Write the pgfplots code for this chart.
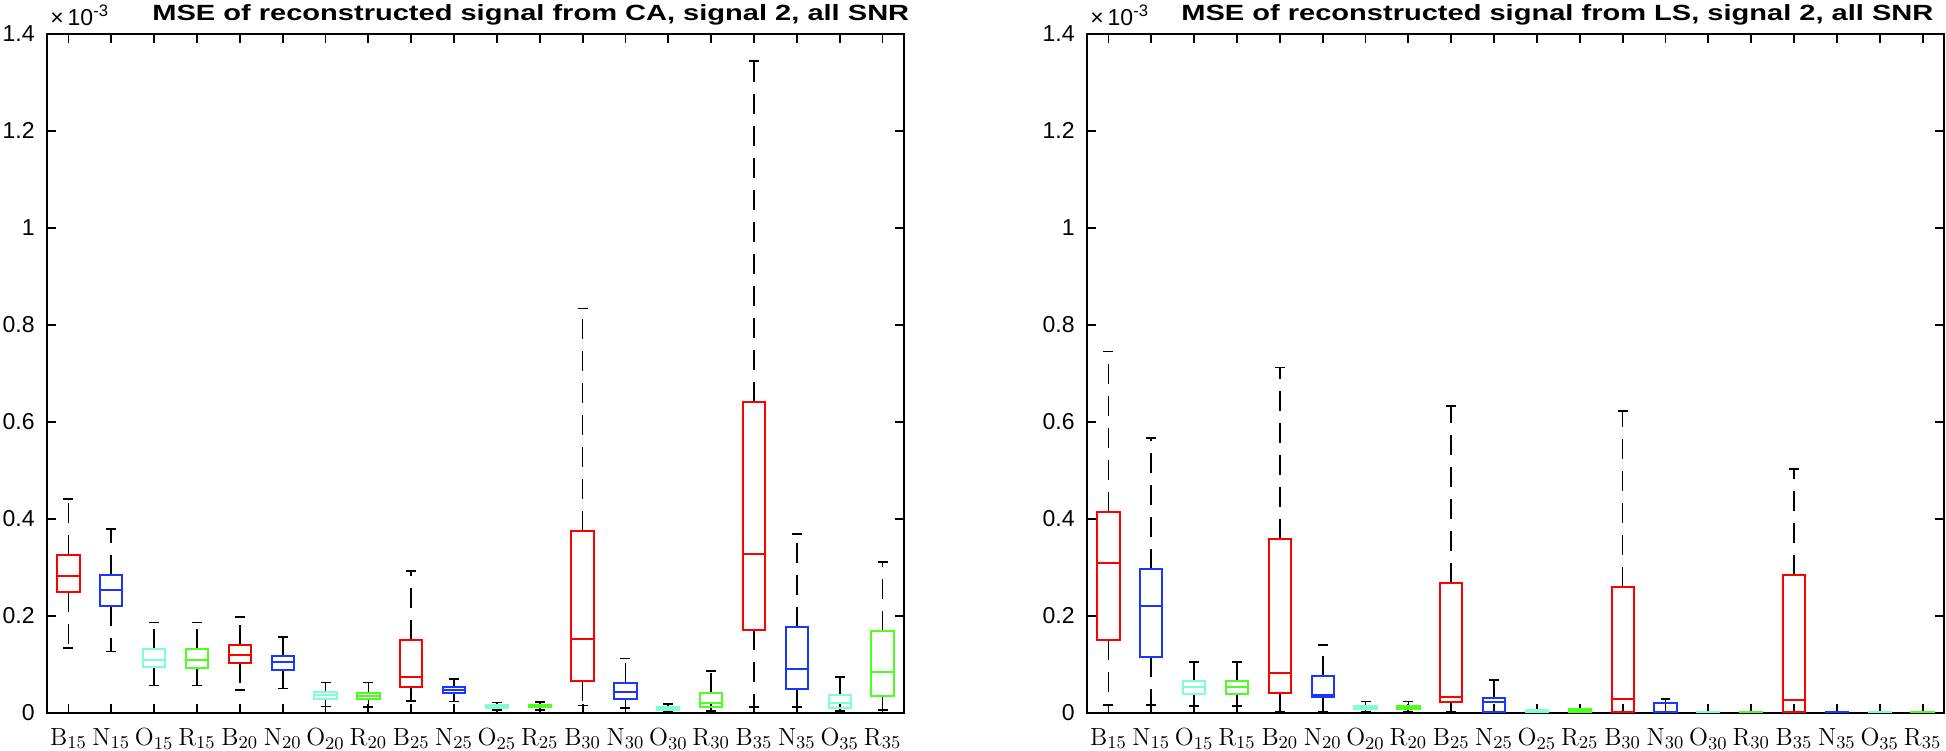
\documentclass[border=0pt]{standalone}
\usepackage{pgfplots}
\pgfplotsset{compat=1.18}
\usepackage{pgfplotstable}
\usepgfplotslibrary{statistics}
\usepackage{fontspec}
\usepackage{graphicx}
\newfontfamily\helv{Liberation Sans}

\definecolor{cB}{rgb}{1,0,0}
\definecolor{cN}{rgb}{0.1,0.22,1}
\definecolor{cO}{rgb}{0.5,1,0.83}
\definecolor{cR}{rgb}{0.3,1,0.12}
\colorlet{col0}{cB}\colorlet{col1}{cN}\colorlet{col2}{cO}\colorlet{col3}{cR}
\colorlet{col4}{cB}\colorlet{col5}{cN}\colorlet{col6}{cO}\colorlet{col7}{cR}
\colorlet{col8}{cB}\colorlet{col9}{cN}\colorlet{col10}{cO}\colorlet{col11}{cR}
\colorlet{col12}{cB}\colorlet{col13}{cN}\colorlet{col14}{cO}\colorlet{col15}{cR}
\colorlet{col16}{cB}\colorlet{col17}{cN}\colorlet{col18}{cO}\colorlet{col19}{cR}

% MSE values in units of 1e-3
\pgfplotstableread{
name lw q1 med q3 uw
B15 0.134 0.249 0.283 0.326 0.441
N15 0.126 0.221 0.254 0.284 0.379
O15 0.056 0.094 0.109 0.131 0.186
R15 0.056 0.093 0.109 0.131 0.186
B20 0.047 0.103 0.119 0.140 0.198
N20 0.050 0.089 0.104 0.117 0.156
O20 0.013 0.028 0.036 0.043 0.062
R20 0.012 0.028 0.034 0.041 0.062
B25 0.024 0.052 0.074 0.149 0.292
N25 0.023 0.040 0.047 0.053 0.070
O25 0.006 0.009 0.012 0.016 0.021
R25 0.006 0.011 0.0145 0.0165 0.022
B30 0.015 0.065 0.152 0.374 0.834
N30 0.010 0.029 0.042 0.062 0.112
O30 0.002 0.0055 0.009 0.012 0.018
R30 0.003 0.011 0.020 0.041 0.086
B35 0.012 0.171 0.327 0.641 1.344
N35 0.012 0.048 0.090 0.176 0.368
O35 0.003 0.010 0.019 0.036 0.074
R35 0.005 0.034 0.083 0.168 0.311
}\ca

\pgfplotstableread{
name lw q1 med q3 uw
B15 0.016 0.149 0.308 0.415 0.745
N15 0.016 0.114 0.221 0.297 0.566
O15 0.014 0.038 0.054 0.066 0.104
R15 0.014 0.038 0.054 0.066 0.104
B20 0.002 0.041 0.081 0.359 0.712
N20 0.002 0.033 0.036 0.076 0.140
O20 0.002 0.007 0.011 0.0145 0.023
R20 0.002 0.007 0.011 0.0145 0.023
B25 0.001 0.023 0.032 0.268 0.632
N25 0.001 0.002 0.023 0.030 0.068
O25 0.0005 0.002 0.003 0.005 0.006
R25 0.0005 0.002 0.004 0.007 0.008
B30 0.0005 0.001 0.028 0.259 0.622
N30 0.0005 0.001 0.002 0.020 0.028
O30 0.0002 0.0005 0.001 0.0015 0.002
R30 0.0002 0.0005 0.001 0.0015 0.002
B35 0.0005 0.001 0.027 0.284 0.502
N35 0.0002 0.0005 0.001 0.0015 0.002
O35 0.0002 0.0005 0.001 0.0015 0.002
R35 0.0002 0.0005 0.001 0.0015 0.002
}\ls

% draw one box from row #2 of table #1
\newcommand\boxrow[2]{%
  \pgfplotstablegetelem{#2}{lw}\of#1\edef\vlw{\pgfplotsretval}%
  \pgfplotstablegetelem{#2}{q1}\of#1\edef\vqa{\pgfplotsretval}%
  \pgfplotstablegetelem{#2}{med}\of#1\edef\vmed{\pgfplotsretval}%
  \pgfplotstablegetelem{#2}{q3}\of#1\edef\vqb{\pgfplotsretval}%
  \pgfplotstablegetelem{#2}{uw}\of#1\edef\vuw{\pgfplotsretval}%
  \pgfmathtruncatemacro\vpos{#2+1}%
  \edef\doplot{\noexpand\addplot[col#2, line width=1pt,
    boxplot prepared={lower whisker=\vlw, lower quartile=\vqa, median=\vmed,
      upper quartile=\vqb, upper whisker=\vuw, draw position=\vpos}]
    coordinates {};}%
  \doplot
}

\pgfplotsset{
  myaxis/.style={
    scale only axis, width=428.5pt, height=339.35pt,
    xmin=0.5, xmax=20.5, ymin=0, ymax=1.4,
    xtick={1,...,20},
    xticklabels={B$_{15}$,N$_{15}$,O$_{15}$,R$_{15}$,B$_{20}$,N$_{20}$,O$_{20}$,R$_{20}$,B$_{25}$,N$_{25}$,O$_{25}$,R$_{25}$,B$_{30}$,N$_{30}$,O$_{30}$,R$_{30}$,B$_{35}$,N$_{35}$,O$_{35}$,R$_{35}$},
    ytick={0,0.2,0.4,0.6,0.8,1,1.2,1.4},
    yticklabels={0,0.2,0.4,0.6,0.8,1,1.2,1.4},
    tick align=inside, major tick length=4.5pt,
    xtick pos=both, ytick pos=both,
    axis line style={line width=0.9pt},
    every tick/.style={black, line width=0.9pt},
    yticklabel style={font=\helv\fontsize{11.5}{13}\selectfont, inner sep=0pt, xshift=-6pt},
    xticklabel style={font=\fontsize{12.4}{14}\selectfont, inner sep=0pt, yshift=-7.6pt},
    boxplot/draw direction=y, boxplot/box extend=0.52, boxplot/whisker extend=0.233,
    boxplot/every whisker/.style={black, line width=0.85pt, dash pattern=on 10pt off 6pt},
    clip=false,
  },
}

\begin{document}
\begin{tikzpicture}
\useasboundingbox (0,0) rectangle (973pt,375pt);
\begin{axis}[myaxis, at={(23.5pt,18.65pt)}, anchor=south west]
\pgfplotsinvokeforeach{0,...,19}{\boxrow{\ca}{#1}}
\node[anchor=base west, inner sep=0pt] at ([xshift=1.5pt,yshift=4pt]rel axis cs:0,1)
  {\helv\fontsize{11.5}{13}\selectfont ×\,10\raisebox{4.5pt}{\fontsize{8.3}{9}\selectfont -3}};
\node[anchor=base west, inner sep=0pt] at ([xshift=52.5pt,yshift=6.5pt]rel axis cs:0,1)
  {\helv\bfseries\fontsize{11}{13}\selectfont\scalebox{1.32}[1]{MSE of reconstructed signal from CA, signal 2, all SNR}};
\end{axis}
\begin{axis}[myaxis, at={(543.5pt,18.65pt)}, anchor=south west]
\pgfplotsinvokeforeach{0,...,19}{\boxrow{\ls}{#1}}
\node[anchor=base west, inner sep=0pt] at ([xshift=1.5pt,yshift=4pt]rel axis cs:0,1)
  {\helv\fontsize{11.5}{13}\selectfont ×\,10\raisebox{4.5pt}{\fontsize{8.3}{9}\selectfont -3}};
\node[anchor=base west, inner sep=0pt] at ([xshift=47pt,yshift=6.5pt]rel axis cs:0,1)
  {\helv\bfseries\fontsize{11}{13}\selectfont\scalebox{1.32}[1]{MSE of reconstructed signal from LS, signal 2, all SNR}};
\end{axis}
\end{tikzpicture}
\end{document}
